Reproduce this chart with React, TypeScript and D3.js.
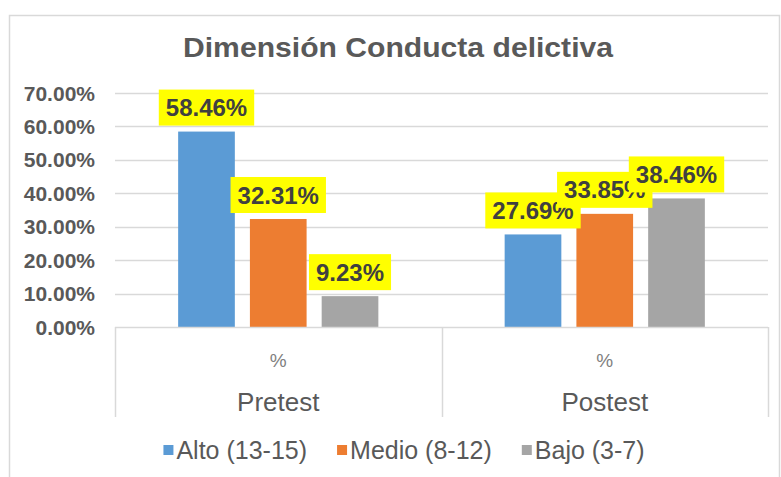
import React, { useEffect, useRef } from 'react';
import * as d3 from 'd3';

const categories = ['Pretest', 'Postest'];
const subLabels = ['%', '%'];
const seriesNames = ['Alto (13-15)', 'Medio (8-12)', 'Bajo (3-7)'];
const alto = [58.46, 27.69];
const medio = [32.31, 33.85];
const bajo = [9.23, 38.46];
const yTicks = [0, 10, 20, 30, 40, 50, 60, 70];
const colors = ['#5b9bd5', '#ed7d31', '#a5a5a5'];

const App = () => {
  const ref = useRef<SVGSVGElement>(null);

  useEffect(() => {
    const width = 781;
    const height = 477;
    const font = '"Liberation Sans", Arial, sans-serif';
    const svg = d3.select(ref.current);
    svg.selectAll('*').remove();

    const series = [alto, medio, bajo];

    // outer chart frame (cropped at bottom)
    svg
      .append('path')
      .attr('d', `M9.5,${height} V15.5 H779.5 V${height}`)
      .attr('fill', 'none')
      .attr('stroke', '#d9d9d9')
      .attr('stroke-width', 1.5);

    const left = 115;
    const right = 768;
    const x0 = d3.scaleBand().domain(categories).range([left, right]).padding(0);
    const x1 = d3
      .scaleBand()
      .domain(seriesNames)
      .range([0, x0.bandwidth()])
      .paddingInner(0.21)
      .paddingOuter(0.88);
    const y = d3.scaleLinear().domain([0, 70]).range([327, 93]);

    // gridlines
    svg
      .selectAll('line.grid')
      .data(yTicks.filter((t) => t > 0))
      .enter()
      .append('line')
      .attr('x1', left)
      .attr('x2', right)
      .attr('y1', (d) => Math.round(y(d)) + 0.5)
      .attr('y2', (d) => Math.round(y(d)) + 0.5)
      .attr('stroke', '#d9d9d9')
      .attr('stroke-width', 1.5);

    // y tick labels
    svg
      .selectAll('text.ytick')
      .data(yTicks)
      .enter()
      .append('text')
      .attr('x', 95)
      .attr('y', (d) => y(d))
      .attr('dy', '0.36em')
      .attr('text-anchor', 'end')
      .style('font-family', font)
      .style('font-size', '21px')
      .style('font-weight', 'bold')
      .style('fill', '#595959')
      .text((d) => d.toFixed(2) + '%');

    // bars
    seriesNames.forEach((name, si) => {
      svg
        .selectAll(`rect.bar${si}`)
        .data(series[si])
        .enter()
        .append('rect')
        .attr('x', (d, i) => (x0(categories[i]) as number) + (x1(name) as number))
        .attr('y', (d) => y(d))
        .attr('width', x1.bandwidth())
        .attr('height', (d) => y(0) - y(d))
        .attr('fill', colors[si]);
    });

    // category axis
    svg
      .append('line')
      .attr('x1', left)
      .attr('x2', right)
      .attr('y1', 327.5)
      .attr('y2', 327.5)
      .attr('stroke', '#d9d9d9')
      .attr('stroke-width', 1.5);
    const seps = [left, ...categories.map((c) => (x0(c) as number) + x0.bandwidth())];
    svg
      .selectAll('line.sep')
      .data(seps)
      .enter()
      .append('line')
      .attr('x1', (d) => Math.round(d) + 0.5)
      .attr('x2', (d) => Math.round(d) + 0.5)
      .attr('y1', 327)
      .attr('y2', 417)
      .attr('stroke', '#d9d9d9')
      .attr('stroke-width', 1.5);

    categories.forEach((c, i) => {
      const cx = (x0(c) as number) + x0.bandwidth() / 2;
      svg
        .append('text')
        .attr('x', cx)
        .attr('y', 360)
        .attr('dy', '0.36em')
        .attr('text-anchor', 'middle')
        .style('font-family', font)
        .style('font-size', '19px')
        .style('fill', '#7f7f7f')
        .text(subLabels[i]);
      svg
        .append('text')
        .attr('x', cx)
        .attr('y', 402)
        .attr('dy', '0.36em')
        .attr('text-anchor', 'middle')
        .style('font-family', font)
        .style('font-size', '26px')
        .style('fill', '#595959')
        .text(c);
    });

    // data labels with yellow boxes, drawn series by series
    seriesNames.forEach((name, si) => {
      series[si].forEach((v, i) => {
        const cx = (x0(categories[i]) as number) + (x1(name) as number) + x1.bandwidth() / 2;
        const bottom = y(v) - 6;
        const g = svg.append('g');
        const rect = g.append('rect').attr('fill', '#ffff00');
        const t = g
          .append('text')
          .attr('x', cx)
          .attr('y', bottom - 18)
          .attr('dy', '0.36em')
          .attr('text-anchor', 'middle')
          .style('font-family', font)
          .style('font-size', '24px')
          .style('font-weight', 'bold')
          .style('fill', '#404040')
          .text(v.toFixed(2) + '%');
        const w = (t.node() as SVGTextElement).getComputedTextLength() + 14;
        rect
          .attr('x', cx - w / 2)
          .attr('y', bottom - 36)
          .attr('width', w)
          .attr('height', 36);
      });
    });

    // title
    svg
      .append('text')
      .attr('x', 398)
      .attr('y', 57)
      .attr('text-anchor', 'middle')
      .attr('textLength', 430)
      .attr('lengthAdjust', 'spacingAndGlyphs')
      .style('font-family', font)
      .style('font-size', '27px')
      .style('font-weight', 'bold')
      .style('fill', '#595959')
      .text('Dimensión Conducta delictiva');

    // legend
    const legend = svg.append('g');
    let lx = 0;
    seriesNames.forEach((name, si) => {
      const item = legend.append('g').attr('transform', `translate(${lx},0)`);
      item
        .append('rect')
        .attr('x', 0)
        .attr('y', 445)
        .attr('width', 10)
        .attr('height', 10)
        .attr('fill', colors[si]);
      const t = item
        .append('text')
        .attr('x', 13)
        .attr('y', 450)
        .attr('dy', '0.36em')
        .style('font-family', font)
        .style('font-size', '25px')
        .style('fill', '#595959')
        .text(name);
      lx += 13 + (t.node() as SVGTextElement).getComputedTextLength() + 30;
    });
    const legendWidth = lx - 30;
    legend.attr('transform', `translate(${404 - legendWidth / 2},0)`);

    svg.attr('width', width).attr('height', height);
  }, []);

  return (
    <svg
      ref={ref}
      width={781}
      height={477}
      style={{ position: 'absolute', left: 0, top: 0, background: '#fff' }}
    />
  );
};

export default App;
